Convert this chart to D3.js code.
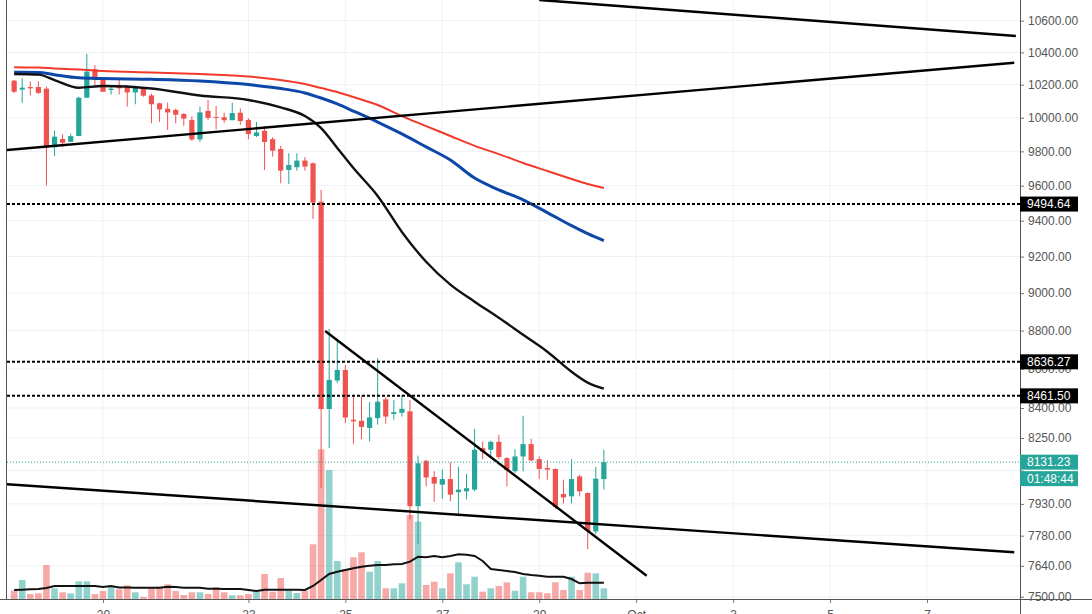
<!DOCTYPE html>
<html>
<head>
<meta charset="utf-8">
<title>BTC 4h</title>
<script src="https://cdnjs.cloudflare.com/ajax/libs/d3/7.8.5/d3.min.js"></script>
<style>
body { margin: 0; background: #fff; }
svg { display: block; font-family: "Liberation Sans", Arial, sans-serif; }
</style>
</head>
<body>
<div id="chart"></div>
<script>
// 4h candles, first one opens Sep 18 04:00
var startTime = Date.UTC(2019, 8, 18, 4);
var H4 = 4 * 3600 * 1000;

var opens  = [10225,10170,10186,10186,10176,9824,9873,9856,9891,10121,10295,10235,10168,10190,10190,10153,10181,10135,10087,10054,
              10047,10023,9987,9871,10041,10005,10003,9985,10030,9987,9891,9922,9872,9814,9691,9707,9746,9730,9508,8395,
              8540,8594,8341,8336,8300,8349,8444,8370,8376,8383,7919,8138,8059,8022,8049,7986,7990,7998,8200,8192,
              8231,8151,8087,8159,8220,8146,8103,8098,7977,7966,8062,7982,7800,8049];
var highs  = [10229,10240,10220,10222,10190,9923,9901,9905,10127,10391,10321,10245,10194,10233,10196,10194,10186,10146,10091,10091,
              10055,10027,10008,10067,10107,10071,10031,10091,10056,9997,9975,9951,9884,9832,9789,9789,9766,9735,9576,8808,
              8750,8620,8463,8463,8430,8655,8455,8441,8467,8441,8163,8142,8087,8095,8130,8108,8074,8295,8233,8237,
              8266,8156,8195,8361,8245,8159,8140,8100,8046,8146,8070,7985,8108,8192];
var lows   = [10150,10090,10135,10143,9600,9773,9824,9855,9890,10121,10199,10157,10140,10140,10067,10081,10127,9967,9975,9927,
              9967,9951,9862,9856,9987,9931,9970,9985,9957,9872,9885,9691,9769,9614,9610,9687,9687,9410,8007,8200,
              8526,8324,8221,8244,8233,8316,8321,8341,8357,7856,7740,8014,7939,7954,7943,7871,7951,7990,8146,8159,
              8146,8014,8079,8087,8135,8049,8046,7907,7932,7932,7966,7717,7787,7998];
var closes = [10157,10182,10178,10150,9824,9887,9851,9890,10121,10281,10235,10157,10176,10178,10153,10181,10133,10081,10050,10032,
              10018,9995,9870,10032,9999,9999,9985,10028,9980,9902,9912,9855,9804,9687,9720,9746,9711,9503,8395,8543,
              8594,8352,8333,8305,8353,8432,8357,8379,8396,7919,8126,8057,8027,8049,7974,7998,8005,8192,8183,8231,
              8156,8092,8159,8220,8140,8098,8095,7916,7961,8049,7990,7802,8051,8131.23];
var volumes = [8.3,19,5,5.7,34,10.7,6.7,5.7,17.7,17.7,5,8,12.3,9.7,13.7,6.7,2,10.7,12.3,14.7,
               8,4,6.7,6.7,5,12,6.7,3.7,3.7,5,7.3,25,7.3,21,8.3,6,8.3,54.7,149.7,129,
               38,29.7,41.7,46.7,27.3,38,10.7,10.7,15.7,84,77.3,14,17.3,10.7,25.7,36.7,14.7,22.3,7.3,10.7,
               13,16.7,8.3,22.3,6.7,6.7,5.7,16.7,9,22.3,9,26.3,25.7,10.7];
var volumeMA = [9,9.3,9.7,10,11,13,13,13,13,13,13,12,13,11.5,11.5,11.3,11.3,11.3,11.3,12.3,
                12,11.3,11.3,11.3,10.3,10.3,10,10,10,9,8,9.3,9.3,9.3,9.3,9.3,9,13,19,25,
                27.3,29,30.7,32.3,33.3,34,34,34.7,35,37.3,42.3,41.7,43,41.7,43,44.7,44.3,43,38,30,
                29,28,27,25,24,23.3,22.3,22.3,22.3,20,15.7,16.3,16.3,16.3];

// moving averages, read at these candle indices
var maIndex = [0, 3, 5, 8, 11, 17, 23, 29, 33, 36, 38, 40, 42, 45, 48, 51, 54, 57, 60, 63, 66, 69, 71, 73];
var maRed   = [10307,10306,10300,10294,10285,10276,10266,10251,10229,10205,10180,10156,10125,10077,10010,9950,9891,9832,9784,9732,9685,9639,9610,9587];
var maBlue  = [10277,10276,10262,10243,10238,10233,10223,10201,10177,10150,10119,10083,10040,9974,9903,9826,9749,9644,9576,9519,9446,9372,9327,9288];
var maBlack = [10266,10262,10229,10182,10192,10177,10134,10107,10062,10010,9938,9820,9702,9541,9337,9171,9046,8954,8868,8778,8689,8585,8529,8498];

// drawn trend lines: [candle index, price] pairs
var trendStart = [[65, 10733], [-0.9, 9808], [-0.9, 8024], [38.5, 8798]];
var trendEnd   = [[124, 10503], [123.8, 10336], [123.8, 7703], [78.3, 7595]];

var levels = [9494.64, 8636.27, 8461.50];
var lastPrice = 8131.23;
var countdown = "01:48:44";

var priceTicks = [10600, 10400, 10200, 10000, 9800, 9600, 9400, 9200, 9000, 8800, 8600, 8400, 8250, 8090, 7930, 7780, 7640, 7500];
var hiddenTicks = [8090];   // label sits under the last-price tags
var dateTicks = [[2019,8,20],[2019,8,23],[2019,8,25],[2019,8,27],[2019,8,29],[2019,9,1],[2019,9,3],[2019,9,5],[2019,9,7]];

var width = 1092, height = 614;
var plotLeft = 7, plotRight = 1020, plotBottom = 599;
var up = "#26a69a", down = "#ef5350";

function tOf(i) { return new Date(startTime + i * H4); }

var x = d3.scaleUtc()
    .domain([new Date(Date.UTC(2019, 8, 20)), new Date(Date.UTC(2019, 9, 7))])
    .range([103, 927]);
var y = d3.scaleLog().domain([10600, 7500]).range([20.7, 596.7]);
var yVol = d3.scaleLinear().domain([0, 150]).range([plotBottom, 449]);

var svg = d3.select("#chart").append("svg")
    .attr("width", width)
    .attr("height", height);

svg.append("defs").append("clipPath").attr("id", "plot")
  .append("rect")
    .attr("x", plotLeft).attr("y", 0)
    .attr("width", plotRight - plotLeft).attr("height", plotBottom);

// grid
var dates = dateTicks.map(function(d) { return new Date(Date.UTC(d[0], d[1], d[2])); });
svg.append("g").selectAll("line").data(priceTicks).join("line")
    .attr("x1", plotLeft).attr("x2", plotRight)
    .attr("y1", function(d) { return y(d); }).attr("y2", function(d) { return y(d); })
    .attr("stroke", "#edf1f6");
svg.append("g").selectAll("line").data(dates).join("line")
    .attr("x1", function(d) { return x(d); }).attr("x2", function(d) { return x(d); })
    .attr("y1", 0).attr("y2", plotBottom)
    .attr("stroke", "#edf1f6");

var plot = svg.append("g").attr("clip-path", "url(#plot)");
var idx = d3.range(opens.length);

// volume
plot.append("g").selectAll("rect").data(idx).join("rect")
    .attr("x", function(i) { return x(tOf(i)) - 3.3; })
    .attr("width", 6.6)
    .attr("y", function(i) { return yVol(volumes[i]); })
    .attr("height", function(i) { return plotBottom - yVol(volumes[i]); })
    .attr("fill", function(i) { return closes[i] >= opens[i] ? up : down; })
    .attr("fill-opacity", 0.5);

plot.append("path")
    .datum(idx)
    .attr("fill", "none")
    .attr("stroke", "#111")
    .attr("stroke-width", 2)
    .attr("d", d3.line()
        .x(function(i) { return x(tOf(i)); })
        .y(function(i) { return yVol(volumeMA[i]); }));

// candles
var candle = plot.append("g").selectAll("g").data(idx).join("g")
    .attr("fill", function(i) { return closes[i] >= opens[i] ? up : down; })
    .attr("stroke", function(i) { return closes[i] >= opens[i] ? up : down; });
candle.append("line")
    .attr("x1", function(i) { return x(tOf(i)); })
    .attr("x2", function(i) { return x(tOf(i)); })
    .attr("y1", function(i) { return y(highs[i]); })
    .attr("y2", function(i) { return y(lows[i]); })
    .attr("stroke-width", 1);
candle.append("rect")
    .attr("stroke", "none")
    .attr("x", function(i) { return x(tOf(i)) - 2.6; })
    .attr("width", 5.2)
    .attr("y", function(i) { return y(Math.max(opens[i], closes[i])); })
    .attr("height", function(i) { return Math.max(1, Math.abs(y(opens[i]) - y(closes[i]))); });

// moving averages
function maLine(values, color, w) {
  plot.append("path")
      .datum(maIndex)
      .attr("fill", "none")
      .attr("stroke", color)
      .attr("stroke-width", w)
      .attr("d", d3.line()
          .curve(d3.curveMonotoneX)
          .x(function(d) { return x(tOf(d)); })
          .y(function(d, k) { return y(values[k]); }));
}
maLine(maRed, "#f23a2c", 2);
maLine(maBlue, "#0d47a8", 3);
maLine(maBlack, "#111", 2.4);

// trend lines
plot.append("g").selectAll("line").data(trendStart).join("line")
    .attr("x1", function(d) { return x(tOf(d[0])); })
    .attr("y1", function(d) { return y(d[1]); })
    .attr("x2", function(d, k) { return x(tOf(trendEnd[k][0])); })
    .attr("y2", function(d, k) { return y(trendEnd[k][1]); })
    .attr("stroke", "#000")
    .attr("stroke-width", 2.4);

// horizontal levels
plot.append("g").selectAll("line").data(levels).join("line")
    .attr("x1", plotLeft).attr("x2", plotRight)
    .attr("y1", function(d) { return y(d); }).attr("y2", function(d) { return y(d); })
    .attr("stroke", "#000")
    .attr("stroke-width", 2)
    .attr("stroke-dasharray", "3,2");
plot.append("line")
    .attr("x1", plotLeft).attr("x2", plotRight)
    .attr("y1", y(lastPrice)).attr("y2", y(lastPrice))
    .attr("stroke", up)
    .attr("stroke-width", 1)
    .attr("stroke-dasharray", "1,2");

// axes
var yAxis = svg.append("g")
    .attr("transform", "translate(" + plotRight + ",0)")
    .call(d3.axisRight(y).tickValues(priceTicks).tickSize(4).tickPadding(4)
        .tickFormat(function(d) { return hiddenTicks.indexOf(d) >= 0 ? "" : d3.format(".2f")(d); }));
yAxis.select(".domain").remove();
yAxis.selectAll(".tick line").attr("stroke", "#777");
yAxis.selectAll("text").attr("fill", "#555").style("font-size", "12px").style("font-family", "Liberation Sans, Arial, sans-serif");

var xAxis = svg.append("g")
    .attr("transform", "translate(0," + plotBottom + ")")
    .call(d3.axisBottom(x).tickValues(dates).tickSize(4)
        .tickFormat(function(d) { return d.getUTCDate() === 1 ? d3.utcFormat("%b")(d) : d.getUTCDate(); }));
xAxis.select(".domain").remove();
xAxis.selectAll(".tick line").attr("stroke", "#777");
xAxis.selectAll("text").attr("y", 11).attr("fill", "#555").style("font-size", "12px").style("font-family", "Liberation Sans, Arial, sans-serif");

// frame lines
svg.append("line").attr("x1", 0).attr("x2", width).attr("y1", plotBottom + 0.5).attr("y2", plotBottom + 0.5).attr("stroke", "#555");
svg.append("line").attr("x1", plotRight + 0.5).attr("x2", plotRight + 0.5).attr("y1", 0).attr("y2", height).attr("stroke", "#555");
svg.append("line").attr("x1", plotLeft - 0.5).attr("x2", plotLeft - 0.5).attr("y1", 0).attr("y2", plotBottom).attr("stroke", "#555");

// price tags on the scale
function tag(value, text, fill) {
  var cy = y(value);
  svg.append("rect").attr("x", plotRight).attr("y", cy - 7.5).attr("width", 58).attr("height", 15).attr("fill", fill);
  svg.append("text").attr("x", plotRight + 7).attr("y", cy + 4.3)
      .attr("fill", "#fff").style("font-size", "12px").text(text);
}
levels.forEach(function(v) { tag(v, d3.format(".2f")(v), "#000"); });
tag(lastPrice, d3.format(".2f")(lastPrice), up);
var ty = y(lastPrice) + 9;
svg.append("rect").attr("x", plotRight).attr("y", ty).attr("width", 58).attr("height", 15).attr("fill", up);
svg.append("text").attr("x", plotRight + 7).attr("y", ty + 11.8)
    .attr("fill", "#fff").style("font-size", "12px").text(countdown);
</script>
</body>
</html>
